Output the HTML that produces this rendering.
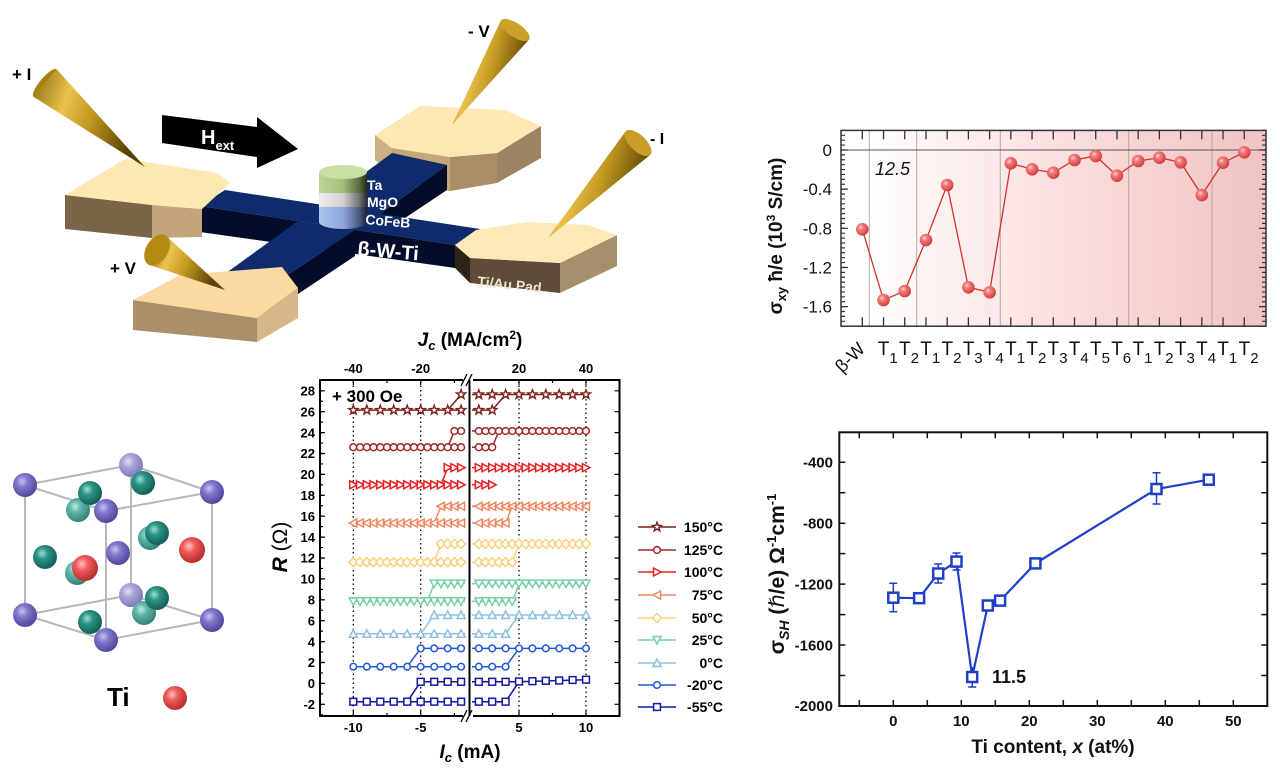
<!DOCTYPE html>
<html><head><meta charset="utf-8">
<style>
html,body{margin:0;padding:0;background:#fff;}
svg{display:block;font-family:"Liberation Sans",Arial,"DejaVu Sans",sans-serif;}
</style></head><body>
<svg width="1280" height="778" viewBox="0 0 1280 778" xmlns="http://www.w3.org/2000/svg">
<defs>
<linearGradient id="pinkbg" x1="841" y1="0" x2="1266" y2="0" gradientUnits="userSpaceOnUse">
<stop offset="0" stop-color="#ffffff"/><stop offset="0.06" stop-color="#ffffff"/><stop offset="0.45" stop-color="#fbe2e2"/><stop offset="1" stop-color="#f2c3c3"/></linearGradient>
<radialGradient id="sph" cx="0.38" cy="0.35" r="0.7">
<stop offset="0" stop-color="#ffd6d6"/><stop offset="0.3" stop-color="#f27c7b"/><stop offset="0.8" stop-color="#dc4c4b"/><stop offset="1" stop-color="#b83232"/></radialGradient>
<radialGradient id="gPur" cx="0.38" cy="0.35" r="0.7"><stop offset="0" stop-color="#c9c4f2"/><stop offset="0.35" stop-color="#7f78cc"/><stop offset="1" stop-color="#4a4396"/></radialGradient>
<radialGradient id="gPurL" cx="0.38" cy="0.35" r="0.7"><stop offset="0" stop-color="#e2e0f6"/><stop offset="0.35" stop-color="#aaa5da"/><stop offset="1" stop-color="#7c77b8"/></radialGradient>
<radialGradient id="gTeal" cx="0.38" cy="0.35" r="0.7"><stop offset="0" stop-color="#9fe0d4"/><stop offset="0.35" stop-color="#2a9484"/><stop offset="1" stop-color="#115a50"/></radialGradient>
<radialGradient id="gTealL" cx="0.38" cy="0.35" r="0.7"><stop offset="0" stop-color="#c2ebe3"/><stop offset="0.35" stop-color="#5fb5a6"/><stop offset="1" stop-color="#2f7d70"/></radialGradient>
<radialGradient id="gRed" cx="0.38" cy="0.35" r="0.7"><stop offset="0" stop-color="#ffc4c4"/><stop offset="0.35" stop-color="#f05a5a"/><stop offset="1" stop-color="#b02a2a"/></radialGradient>
<linearGradient id="gGold" x1="0" y1="0" x2="1" y2="0.3"><stop offset="0" stop-color="#8a6a10"/><stop offset="0.35" stop-color="#e8c24c"/><stop offset="0.6" stop-color="#c49a22"/><stop offset="1" stop-color="#5a4206"/></linearGradient>
<linearGradient id="gGreen" x1="0" y1="0" x2="1" y2="0"><stop offset="0" stop-color="#bcd596"/><stop offset="0.5" stop-color="#a4be7e"/><stop offset="0.85" stop-color="#58683e"/><stop offset="1" stop-color="#262c18"/></linearGradient>
<linearGradient id="gGray" x1="0" y1="0" x2="1" y2="0"><stop offset="0" stop-color="#ececec"/><stop offset="0.5" stop-color="#d2d2d2"/><stop offset="0.85" stop-color="#6e6e6e"/><stop offset="1" stop-color="#2c2c2c"/></linearGradient>
<linearGradient id="gBlue" x1="0" y1="0" x2="1" y2="0"><stop offset="0" stop-color="#abc3ee"/><stop offset="0.5" stop-color="#8fa8dc"/><stop offset="0.85" stop-color="#46567c"/><stop offset="1" stop-color="#182036"/></linearGradient>

<marker id="mk150" markerWidth="12" markerHeight="12" refX="6" refY="6" markerUnits="userSpaceOnUse" overflow="visible"><polygon points="6,1.2 7.18,4.38 10.57,4.52 7.9,6.62 8.82,9.88 6,8 3.18,9.88 4.1,6.62 1.43,4.52 4.82,4.38" fill="#fff" stroke="#7b2020" stroke-width="1.4"/></marker>
<marker id="mk125" markerWidth="12" markerHeight="12" refX="6" refY="6" markerUnits="userSpaceOnUse" overflow="visible"><circle cx="6" cy="6" r="3.4" fill="#fff" stroke="#a02828" stroke-width="1.5"/></marker>
<marker id="mk100" markerWidth="12" markerHeight="12" refX="6" refY="6" markerUnits="userSpaceOnUse" overflow="visible"><polygon points="2.5,2 10,6 2.5,10" fill="#fff" stroke="#e81e1e" stroke-width="1.5"/></marker>
<marker id="mk75" markerWidth="12" markerHeight="12" refX="6" refY="6" markerUnits="userSpaceOnUse" overflow="visible"><polygon points="9.5,2 2,6 9.5,10" fill="#fff" stroke="#f28860" stroke-width="1.5"/></marker>
<marker id="mk50" markerWidth="12" markerHeight="12" refX="6" refY="6" markerUnits="userSpaceOnUse" overflow="visible"><polygon points="6,1.5 10.5,6 6,10.5 1.5,6" fill="#fff" stroke="#fcd07a" stroke-width="1.5"/></marker>
<marker id="mk25" markerWidth="12" markerHeight="12" refX="6" refY="6" markerUnits="userSpaceOnUse" overflow="visible"><polygon points="2,2.5 10,2.5 6,10" fill="#fff" stroke="#78d0a8" stroke-width="1.5"/></marker>
<marker id="mk0" markerWidth="12" markerHeight="12" refX="6" refY="6" markerUnits="userSpaceOnUse" overflow="visible"><polygon points="2,9.5 10,9.5 6,2" fill="#fff" stroke="#8dbfe0" stroke-width="1.5"/></marker>
<marker id="mkm20" markerWidth="12" markerHeight="12" refX="6" refY="6" markerUnits="userSpaceOnUse" overflow="visible"><circle cx="6" cy="6" r="3.3" fill="#fff" stroke="#2255dd" stroke-width="1.5"/></marker>
<marker id="mkm55" markerWidth="12" markerHeight="12" refX="6" refY="6" markerUnits="userSpaceOnUse" overflow="visible"><rect x="2.6" y="2.6" width="6.8" height="6.8" fill="#fff" stroke="#1515a5" stroke-width="1.5"/></marker>
</defs>

<!-- ================= DEVICE SCHEMATIC ================= -->
<polygon points="375,135 392,148 392,172 375,160" fill="#cdb184"/>
<polygon points="392,148 450,157 450,191 392,180" fill="#c3a67a"/>
<polygon points="450,157 497,153 497,183 450,191" fill="#a88d66"/>
<polygon points="497,153 541,126 541,158 497,183" fill="#9c8462"/>
<polygon points="375,135 420,106 505,110 541,126 497,153 450,157 392,148" fill="#fde8b4"/>

<polygon points="200,206 455,245 455,268 200,232" fill="#030c28"/>
<polygon points="265,290 355,230 355,256 265,316" fill="#030c28"/>
<polygon points="380,214 447,165 447,190 405,218" fill="#030c28"/>
<polygon points="225,190 480,229 455,245 200,206" fill="#0f2b6b"/>
<polygon points="215,281 298,221 355,230 265,290" fill="#0f2b6b"/>
<polygon points="321,205 392,153 447,165 380,214" fill="#0f2b6b"/>

<polygon points="65,195 152,205 152,238 65,229" fill="#7a6548"/>
<polygon points="152,205 202,209 202,237 152,238" fill="#c3a57a"/>
<polygon points="65,195 125,159 218,173 230,183 202,209 152,205" fill="#fde8b2"/>

<polygon points="455,245 470,258 470,283 455,268" fill="#2d2518"/>
<polygon points="470,258 560,263 560,293 470,283" fill="#5e4c38"/>
<polygon points="560,263 617,235 617,266 560,293" fill="#a68f6b"/>
<polygon points="455,245 476,230 527,222 588,225 617,235 560,263 470,258" fill="#fde8b8"/>

<polygon points="133,300 257,318 257,342 133,330" fill="#aa9068"/>
<polygon points="257,318 298,288 298,318 257,342" fill="#d6b888"/>
<polygon points="133,300 180,275 282,267 298,288 257,318" fill="#fdd9a2"/>

<rect x="319" y="207" width="48" height="15" fill="url(#gBlue)"/>
<ellipse cx="343" cy="222" rx="24" ry="7" fill="url(#gBlue)"/>
<rect x="319" y="193" width="48" height="14" fill="url(#gGray)"/>
<rect x="319" y="172" width="48" height="21" fill="url(#gGreen)"/>
<ellipse cx="343" cy="172" rx="24" ry="7" fill="#c9e0a2"/>

<polygon points="162,115 257,127 257,117 298,149 257,168 257,157 162,143" fill="#000"/>
<text x="201" y="144" fill="#fff" font-weight="bold" font-size="20">H<tspan font-size="13" dy="6">ext</tspan></text>

<text x="367" y="190" fill="#fff" font-weight="bold" font-size="14">Ta</text>
<text x="367" y="207" fill="#fff" font-weight="bold" font-size="14">MgO</text>
<text transform="translate(365,224) rotate(5)" fill="#fff" font-weight="bold" font-size="14">CoFeB</text>
<text transform="translate(357,255) rotate(5)" fill="#fff" font-weight="bold" font-size="20">β-W-Ti</text>
<text transform="translate(477,286) rotate(6)" fill="#efe4cc" font-weight="bold" font-size="14">Ti/Au Pad</text>

<ellipse cx="45" cy="83" rx="18" ry="5" transform="rotate(-50 45 83)" fill="#a8820e"/>
<polygon points="33.4,96.8 56.6,69.2 145,167" fill="url(#gGold)"/>
<polygon points="529.2,39.4 500.8,20.6 452,125" fill="url(#gGold)"/>
<ellipse cx="515" cy="30" rx="17" ry="7" transform="rotate(33.6 515 30)" fill="#caa22a"/>
<polygon points="650.3,154.7 625.7,131.3 548,238" fill="url(#gGold)"/>
<ellipse cx="638" cy="143" rx="17" ry="8" transform="rotate(43.5 638 143)" fill="#c99e26"/>
<polygon points="148.4,264.6 165.6,235.4 225,290" fill="url(#gGold)"/>
<ellipse cx="157" cy="250" rx="17" ry="11" transform="rotate(-59.6 157 250)" fill="#b48a14"/>

<text x="12" y="80" font-weight="bold" font-size="17" fill="#000">+ I</text>
<text x="468" y="37" font-weight="bold" font-size="17" fill="#000">- V</text>
<text x="650" y="144" font-weight="bold" font-size="16" fill="#000">- I</text>
<text x="110" y="274" font-weight="bold" font-size="17" fill="#000">+ V</text>

<!-- ================= CRYSTAL ================= -->
<g stroke="#b8b8b8" stroke-width="2" fill="none">
<polygon points="25,485 131,465 212,492 106,511"/>
<polygon points="25,615 131,595 212,620 106,640"/>
<path d="M25,485V615 M131,465V595 M212,492V620 M106,511V640"/>
</g>
<circle cx="131" cy="465" r="12" fill="url(#gPurL)"/>
<circle cx="131" cy="595" r="12" fill="url(#gPurL)"/>
<circle cx="143" cy="483" r="12" fill="url(#gTeal)"/>
<circle cx="78" cy="510" r="12" fill="url(#gTealL)"/>
<circle cx="90" cy="493" r="12" fill="url(#gTeal)"/>
<circle cx="77" cy="573" r="12" fill="url(#gTealL)"/>
<circle cx="150" cy="538" r="12" fill="url(#gTealL)"/>
<circle cx="157" cy="533" r="12" fill="url(#gTeal)"/>
<circle cx="144" cy="613" r="12" fill="url(#gTealL)"/>
<circle cx="157" cy="598" r="12" fill="url(#gTeal)"/>
<circle cx="90" cy="622" r="12" fill="url(#gTeal)"/>
<circle cx="45" cy="557" r="12" fill="url(#gTeal)"/>
<circle cx="118" cy="553" r="12" fill="url(#gPur)"/>
<circle cx="85" cy="568" r="13" fill="url(#gRed)"/>
<circle cx="192" cy="550" r="13" fill="url(#gRed)"/>
<circle cx="25" cy="485" r="12" fill="url(#gPur)"/>
<circle cx="212" cy="492" r="12" fill="url(#gPur)"/>
<circle cx="106" cy="511" r="12" fill="url(#gPur)"/>
<circle cx="25" cy="615" r="12" fill="url(#gPur)"/>
<circle cx="212" cy="620" r="12" fill="url(#gPur)"/>
<circle cx="106" cy="640" r="12" fill="url(#gPur)"/>
<text x="107" y="706" font-weight="bold" font-size="26" fill="#000">Ti</text>
<circle cx="175" cy="698" r="12" fill="url(#gRed)"/>

<!-- ================= MIDDLE CHART ================= -->
<g stroke="#000" stroke-width="1.3" stroke-dasharray="1.5 3">
<path d="M353.3,381V715 M420.7,381V715 M519,381V715 M586,381V715"/>
</g>
<rect x="320" y="380" width="299.5" height="336" fill="none" stroke="#000" stroke-width="2"/>
<rect x="463" y="376" width="10" height="8" fill="#fff"/>
<rect x="463" y="712" width="10" height="8" fill="#fff"/>
<path d="M461,386 L467,374 M466,386 L472,374 M461,722 L467,710 M466,722 L472,710" stroke="#000" stroke-width="1.3"/>
<line x1="469.5" y1="380" x2="469.5" y2="716" stroke="#000" stroke-width="2"/>
<line x1="321.5" y1="390.2" x2="321.5" y2="716" stroke="#000" stroke-width="3" stroke-dasharray="1.2 9.25"/>
<line x1="322.5" y1="390.2" x2="322.5" y2="716" stroke="#000" stroke-width="5" stroke-dasharray="1.2 19.7"/>
<line x1="617" y1="390.2" x2="617" y2="716" stroke="#000" stroke-width="5" stroke-dasharray="1.2 19.7"/>
<path d="M353.3,380v5 M420.7,380v5 M519,380v5 M586,380v5 M387,380v3 M454.4,380v3 M552.5,380v3 M353.3,716v-5 M420.7,716v-5 M519,716v-5 M586,716v-5 M387,716v-3 M454.4,716v-3 M552.5,716v-3" stroke="#000" stroke-width="1.2"/>
<g font-weight="bold" font-size="13" fill="#000" text-anchor="end">
<text x="315" y="395.5">28</text><text x="315" y="416.4">26</text><text x="315" y="437.3">24</text><text x="315" y="458.2">22</text>
<text x="315" y="479.1">20</text><text x="315" y="500">18</text><text x="315" y="520.9">16</text><text x="315" y="541.8">14</text>
<text x="315" y="562.7">12</text><text x="315" y="583.6">10</text><text x="315" y="604.5">8</text><text x="315" y="625.4">6</text>
<text x="315" y="646.3">4</text><text x="315" y="667.2">2</text><text x="315" y="688.1">0</text><text x="315" y="709">-2</text>
</g>
<g font-weight="bold" font-size="13" fill="#000" text-anchor="middle">
<text x="353.3" y="373">-40</text><text x="420.7" y="373">-20</text><text x="519" y="373">20</text><text x="586" y="373">40</text>
<text x="353.3" y="732">-10</text><text x="420.7" y="732">-5</text><text x="519" y="732">5</text><text x="586" y="732">10</text>
</g>
<text x="470" y="346" text-anchor="middle" font-weight="bold" font-size="19"><tspan font-style="italic">J</tspan><tspan font-style="italic" font-size="13" dy="4">c</tspan><tspan dy="-4"> (MA/cm</tspan><tspan font-size="12" dy="-7">2</tspan><tspan dy="7">)</tspan></text>
<text x="470" y="758" text-anchor="middle" font-weight="bold" font-size="19"><tspan font-style="italic">I</tspan><tspan font-style="italic" font-size="13" dy="4">c</tspan><tspan dy="-4"> (mA)</tspan></text>
<text transform="translate(287,547) rotate(-90)" text-anchor="middle" font-size="21" font-weight="bold"><tspan font-style="italic">R</tspan> <tspan font-weight="normal">(Ω)</tspan></text>
<text x="332" y="402" font-weight="bold" font-size="17">+ 300 Oe</text>

<g fill="none" stroke-width="1.5">
<path stroke="#7b2020" d="M353.3,410.1H465 M447.7,410.1L461.1,394.5H465 M472,394.5H586 M472,410.1H492.2L505.6,394.5"/>
<path stroke="#a02828" d="M353.3,447.2H465 M447.7,447.2L454.4,431H465 M472,431H586 M472,447.2H492.2L498.9,431"/>
<path stroke="#e81e1e" d="M353.3,484.8H465 M440.9,484.8L447.7,467.6H465 M472,467.6H586 M472,484.8H492.2"/>
<path stroke="#f28860" d="M353.3,523H465 M434.2,523L440.9,506.3H465 M472,506.3H586 M472,523H505.6L512.3,506.3"/>
<path stroke="#fcd07a" d="M353.3,562.2H465 M434.2,562.2L440.9,543.9H465 M472,543.9H586 M472,562.2H512.3L519,543.9"/>
<path stroke="#78d0a8" d="M353.3,601.4H465 M427.4,601.4L434.2,583.6H465 M472,583.6H586 M472,601.4H512.3L519,583.6"/>
<path stroke="#8dbfe0" d="M353.3,633.8H465 M420.7,633.8L434.2,615H465 M472,615H586 M472,633.8H505.6L519,615"/>
<path stroke="#2255dd" d="M353.3,666.7H465 M407.2,666.7L420.7,648.4H465 M472,648.4H586 M472,666.7H505.6L519,648.4"/>
<path stroke="#1515a5" d="M353.3,701.7H465 M407.2,701.7L420.7,681.8H465 M472,681.8H519L586,679.7 M472,701.7H505.6L519,681.8"/>
</g>
<g fill="none" stroke="none">
<polyline marker-start="url(#mk150)" marker-mid="url(#mk150)" marker-end="url(#mk150)" points="353.3,410.1 366.8,410.1 380.3,410.1 393.7,410.1 407.2,410.1 420.7,410.1 434.2,410.1 447.7,410.1 461.1,410.1 461.1,394.5 478.8,394.5 492.2,394.5 505.6,394.5 519,394.5 532.4,394.5 545.8,394.5 559.2,394.5 572.6,394.5 586,394.5 492.2,410.1 478.8,410.1"/>
<polyline marker-start="url(#mk125)" marker-mid="url(#mk125)" marker-end="url(#mk125)" points="353.3,447.2 360,447.2 366.8,447.2 373.5,447.2 380.3,447.2 387,447.2 393.7,447.2 400.5,447.2 407.2,447.2 414,447.2 420.7,447.2 427.4,447.2 434.2,447.2 440.9,447.2 447.7,447.2 454.4,447.2 461.1,447.2 454.4,431 461.1,431 478.8,431 485.5,431 492.2,431 498.9,431 505.6,431 512.3,431 519,431 525.7,431 532.4,431 539.1,431 545.8,431 552.5,431 559.2,431 565.9,431 572.6,431 579.3,431 586,431 478.8,447.2 485.5,447.2 492.2,447.2"/>
<polyline marker-start="url(#mk100)" marker-mid="url(#mk100)" marker-end="url(#mk100)" points="353.3,484.8 360,484.8 366.8,484.8 373.5,484.8 380.3,484.8 387,484.8 393.7,484.8 400.5,484.8 407.2,484.8 414,484.8 420.7,484.8 427.4,484.8 434.2,484.8 440.9,484.8 447.7,484.8 454.4,484.8 461.1,484.8 447.7,467.6 454.4,467.6 461.1,467.6 478.8,467.6 485.5,467.6 492.2,467.6 498.9,467.6 505.6,467.6 512.3,467.6 519,467.6 525.7,467.6 532.4,467.6 539.1,467.6 545.8,467.6 552.5,467.6 559.2,467.6 565.9,467.6 572.6,467.6 579.3,467.6 586,467.6 478.8,484.8 485.5,484.8 492.2,484.8"/>
<polyline marker-start="url(#mk75)" marker-mid="url(#mk75)" marker-end="url(#mk75)" points="353.3,523 360,523 366.8,523 373.5,523 380.3,523 387,523 393.7,523 400.5,523 407.2,523 414,523 420.7,523 427.4,523 434.2,523 440.9,523 447.7,523 454.4,523 461.1,523 440.9,506.3 447.7,506.3 454.4,506.3 461.1,506.3 478.8,506.3 485.5,506.3 492.2,506.3 498.9,506.3 505.6,506.3 512.3,506.3 519,506.3 525.7,506.3 532.4,506.3 539.1,506.3 545.8,506.3 552.5,506.3 559.2,506.3 565.9,506.3 572.6,506.3 579.3,506.3 586,506.3 478.8,523 485.5,523 492.2,523 498.9,523 505.6,523"/>
<polyline marker-start="url(#mk50)" marker-mid="url(#mk50)" marker-end="url(#mk50)" points="353.3,562.2 360,562.2 366.8,562.2 373.5,562.2 380.3,562.2 387,562.2 393.7,562.2 400.5,562.2 407.2,562.2 414,562.2 420.7,562.2 427.4,562.2 434.2,562.2 440.9,562.2 447.7,562.2 454.4,562.2 461.1,562.2 440.9,543.9 447.7,543.9 454.4,543.9 461.1,543.9 478.8,543.9 485.5,543.9 492.2,543.9 498.9,543.9 505.6,543.9 512.3,543.9 519,543.9 525.7,543.9 532.4,543.9 539.1,543.9 545.8,543.9 552.5,543.9 559.2,543.9 565.9,543.9 572.6,543.9 579.3,543.9 586,543.9 478.8,562.2 485.5,562.2 492.2,562.2 498.9,562.2 505.6,562.2 512.3,562.2"/>
<polyline marker-start="url(#mk25)" marker-mid="url(#mk25)" marker-end="url(#mk25)" points="353.3,601.4 360,601.4 366.8,601.4 373.5,601.4 380.3,601.4 387,601.4 393.7,601.4 400.5,601.4 407.2,601.4 414,601.4 420.7,601.4 427.4,601.4 434.2,601.4 440.9,601.4 447.7,601.4 454.4,601.4 461.1,601.4 434.2,583.6 440.9,583.6 447.7,583.6 454.4,583.6 461.1,583.6 478.8,583.6 485.5,583.6 492.2,583.6 498.9,583.6 505.6,583.6 512.3,583.6 519,583.6 525.7,583.6 532.4,583.6 539.1,583.6 545.8,583.6 552.5,583.6 559.2,583.6 565.9,583.6 572.6,583.6 579.3,583.6 586,583.6 478.8,601.4 485.5,601.4 492.2,601.4 498.9,601.4 505.6,601.4 512.3,601.4"/>
<polyline marker-start="url(#mk0)" marker-mid="url(#mk0)" marker-end="url(#mk0)" points="353.3,633.8 366.8,633.8 380.3,633.8 393.7,633.8 407.2,633.8 420.7,633.8 434.2,633.8 447.7,633.8 461.1,633.8 434.2,615 447.7,615 461.1,615 478.8,615 492.2,615 505.6,615 519,615 532.4,615 545.8,615 559.2,615 572.6,615 586,615 478.8,633.8 492.2,633.8 505.6,633.8"/>
<polyline marker-start="url(#mkm20)" marker-mid="url(#mkm20)" marker-end="url(#mkm20)" points="353.3,666.7 366.8,666.7 380.3,666.7 393.7,666.7 407.2,666.7 420.7,666.7 434.2,666.7 447.7,666.7 461.1,666.7 420.7,648.4 434.2,648.4 447.7,648.4 461.1,648.4 478.8,648.4 492.2,648.4 505.6,648.4 519,648.4 532.4,648.4 545.8,648.4 559.2,648.4 572.6,648.4 586,648.4 478.8,666.7 492.2,666.7 505.6,666.7"/>
<polyline marker-start="url(#mkm55)" marker-mid="url(#mkm55)" marker-end="url(#mkm55)" points="353.3,701.7 366.8,701.7 380.3,701.7 393.7,701.7 407.2,701.7 420.7,701.7 434.2,701.7 447.7,701.7 461.1,701.7 420.7,681.8 434.2,681.8 447.7,681.8 461.1,681.8 478.8,681.8 492.2,681.8 505.6,681.8 519,681.5 532.4,681.2 545.8,680.8 559.2,680.5 572.6,680 586,679.7 478.8,701.7 492.2,701.7 505.6,701.7"/>
</g>

<g fill="none" stroke-width="1.6">
<polyline stroke="#7b2020" points="638,527 657,527 676,527" marker-mid="url(#mk150)"/>
<polyline stroke="#a02828" points="638,550 657,550 676,550" marker-mid="url(#mk125)"/>
<polyline stroke="#e81e1e" points="638,572 657,572 676,572" marker-mid="url(#mk100)"/>
<polyline stroke="#f28860" points="638,595 657,595 676,595" marker-mid="url(#mk75)"/>
<polyline stroke="#fcd07a" points="638,618 657,618 676,618" marker-mid="url(#mk50)"/>
<polyline stroke="#78d0a8" points="638,640 657,640 676,640" marker-mid="url(#mk25)"/>
<polyline stroke="#8dbfe0" points="638,663 657,663 676,663" marker-mid="url(#mk0)"/>
<polyline stroke="#2255dd" points="638,685 657,685 676,685" marker-mid="url(#mkm20)"/>
<polyline stroke="#1515a5" points="638,707 657,707 676,707" marker-mid="url(#mkm55)"/>
</g>
<g font-weight="bold" font-size="14" fill="#000" text-anchor="end">
<text x="723" y="532">150°C</text><text x="723" y="555">125°C</text><text x="723" y="577">100°C</text>
<text x="723" y="600">75°C</text><text x="723" y="623">50°C</text><text x="723" y="645">25°C</text>
<text x="723" y="668">0°C</text><text x="723" y="690">-20°C</text><text x="723" y="712">-55°C</text>
</g>

<!-- ================= TOP RIGHT CHART ================= -->
<rect x="841" y="130.4" width="425" height="195.8" fill="url(#pinkbg)"/>
<path d="M869.3,130.4V326.2 M916.7,130.4V326.2 M1000.3,130.4V326.2 M1128.7,130.4V326.2 M1212,130.4V326.2" stroke="#b3a8a8" stroke-width="1"/>
<line x1="841" y1="150" x2="1266" y2="150" stroke="#555" stroke-width="1"/>
<line x1="843" y1="129.8" x2="843" y2="326.2" stroke="#333" stroke-width="4" stroke-dasharray="1.2 3.695"/>
<line x1="844.5" y1="149.4" x2="844.5" y2="326.2" stroke="#333" stroke-width="7" stroke-dasharray="1.2 37.96"/>
<line x1="1264" y1="129.8" x2="1264" y2="326.2" stroke="#333" stroke-width="4" stroke-dasharray="1.2 3.695"/>
<line x1="1262.5" y1="149.4" x2="1262.5" y2="326.2" stroke="#333" stroke-width="7" stroke-dasharray="1.2 37.96"/>
<line x1="861.65" y1="134.9" x2="1250" y2="134.9" stroke="#333" stroke-width="9" stroke-dasharray="1.3 19.92"/>
<line x1="861.65" y1="321.7" x2="1250" y2="321.7" stroke="#333" stroke-width="9" stroke-dasharray="1.3 19.92"/>
<rect x="841" y="130.4" width="425" height="195.8" fill="none" stroke="#333" stroke-width="1.5"/>
<polyline fill="none" stroke="#d8302c" stroke-width="1.3" points="862.3,229.3 883.5,300 904.7,291 926,240 947.2,185 968.4,287.3 989.6,292.3 1010.8,163.3 1032.1,169.3 1053.3,172.7 1074.5,160 1095.7,156 1116.9,175.7 1138.2,161 1159.4,157.7 1180.6,162.3 1201.8,195 1223,162.7 1244.3,152.3"/>
<g fill="url(#sph)">
<circle cx="862.3" cy="229.3" r="6.3"/><circle cx="883.5" cy="300" r="6.3"/><circle cx="904.7" cy="291" r="6.3"/>
<circle cx="926" cy="240" r="6.3"/><circle cx="947.2" cy="185" r="6.3"/><circle cx="968.4" cy="287.3" r="6.3"/>
<circle cx="989.6" cy="292.3" r="6.3"/><circle cx="1010.8" cy="163.3" r="6.3"/><circle cx="1032.1" cy="169.3" r="6.3"/>
<circle cx="1053.3" cy="172.7" r="6.3"/><circle cx="1074.5" cy="160" r="6.3"/><circle cx="1095.7" cy="156" r="6.3"/>
<circle cx="1116.9" cy="175.7" r="6.3"/><circle cx="1138.2" cy="161" r="6.3"/><circle cx="1159.4" cy="157.7" r="6.3"/>
<circle cx="1180.6" cy="162.3" r="6.3"/><circle cx="1201.8" cy="195" r="6.3"/><circle cx="1223" cy="162.7" r="6.3"/>
<circle cx="1244.3" cy="152.3" r="6.3"/>
</g>
<g font-size="17" fill="#111" text-anchor="end">
<text x="832" y="156">0</text><text x="832" y="195.2">-0.4</text><text x="832" y="234.3">-0.8</text><text x="832" y="273.5">-1.2</text><text x="832" y="312.6">-1.6</text>
</g>
<text x="875" y="175" font-style="italic" font-size="18" fill="#111">12.5</text>
<text transform="translate(782,236) rotate(-90)" text-anchor="middle" font-weight="bold" font-size="19" fill="#111">σ<tspan font-size="13" dy="4">xy</tspan><tspan dy="-4"> ħ/e (10</tspan><tspan font-size="12" dy="-7">3</tspan><tspan dy="7"> S/cm)</tspan></text>
<text transform="translate(866,350) rotate(-45)" text-anchor="end" font-size="18" fill="#111">β-W</text>
<g font-size="19" fill="#111">
<text x="877.8" y="355">T<tspan font-size="15" dy="8">1</tspan></text>
<text x="899" y="355">T<tspan font-size="15" dy="8">2</tspan></text>
<text x="920.3" y="355">T<tspan font-size="15" dy="8">1</tspan></text>
<text x="941.5" y="355">T<tspan font-size="15" dy="8">2</tspan></text>
<text x="962.7" y="355">T<tspan font-size="15" dy="8">3</tspan></text>
<text x="983.9" y="355">T<tspan font-size="15" dy="8">4</tspan></text>
<text x="1005.1" y="355">T<tspan font-size="15" dy="8">1</tspan></text>
<text x="1026.4" y="355">T<tspan font-size="15" dy="8">2</tspan></text>
<text x="1047.6" y="355">T<tspan font-size="15" dy="8">3</tspan></text>
<text x="1068.8" y="355">T<tspan font-size="15" dy="8">4</tspan></text>
<text x="1090" y="355">T<tspan font-size="15" dy="8">5</tspan></text>
<text x="1111.2" y="355">T<tspan font-size="15" dy="8">6</tspan></text>
<text x="1132.5" y="355">T<tspan font-size="15" dy="8">1</tspan></text>
<text x="1153.7" y="355">T<tspan font-size="15" dy="8">2</tspan></text>
<text x="1174.9" y="355">T<tspan font-size="15" dy="8">3</tspan></text>
<text x="1196.1" y="355">T<tspan font-size="15" dy="8">4</tspan></text>
<text x="1217.3" y="355">T<tspan font-size="15" dy="8">1</tspan></text>
<text x="1238.6" y="355">T<tspan font-size="15" dy="8">2</tspan></text>
</g>

<!-- ================= BOTTOM RIGHT CHART ================= -->
<line x1="842.3" y1="461.55" x2="842.3" y2="706" stroke="#111" stroke-width="6" stroke-dasharray="1.5 28.96"/>
<line x1="1264.3" y1="461.55" x2="1264.3" y2="706" stroke="#111" stroke-width="6" stroke-dasharray="1.5 28.96"/>
<line x1="858.55" y1="703" x2="1266" y2="703" stroke="#111" stroke-width="6" stroke-dasharray="1.5 32.5"/>
<line x1="858.55" y1="435.3" x2="1266" y2="435.3" stroke="#111" stroke-width="6" stroke-dasharray="1.5 32.5"/>
<rect x="839.3" y="432.3" width="428" height="273.7" fill="none" stroke="#111" stroke-width="2"/>
<g font-weight="bold" font-size="15" fill="#111" text-anchor="end">
<text x="833" y="467.5">-400</text><text x="833" y="528.4">-800</text><text x="833" y="589.4">-1200</text><text x="833" y="650.3">-1600</text><text x="833" y="711">-2000</text>
</g>
<g font-weight="bold" font-size="15" fill="#111" text-anchor="middle">
<text x="893.3" y="726">0</text><text x="961.3" y="726">10</text><text x="1029.3" y="726">20</text><text x="1097.3" y="726">30</text><text x="1165.3" y="726">40</text><text x="1233.3" y="726">50</text>
</g>
<text x="1053" y="753" text-anchor="middle" font-weight="bold" font-size="19" fill="#111">Ti content, <tspan font-style="italic">x</tspan> (at%)</text>
<text transform="translate(784,574) rotate(-90)" text-anchor="middle" font-weight="bold" font-size="21" fill="#111">σ<tspan font-size="14" font-style="italic" dy="5">SH</tspan><tspan dy="-5"> (</tspan><tspan font-style="italic" font-weight="normal">ℏ</tspan>/e) Ω<tspan font-size="13" dy="-8">-1</tspan><tspan dy="8">cm</tspan><tspan font-size="13" dy="-8">-1</tspan></text>
<path d="M893.3,583.3V611.7 M889.3,583.3h8 M889.3,611.7h8 M938.2,564V583 M934.2,564h8 M934.2,583h8 M956.5,553V570 M952.5,553h8 M952.5,570h8 M972.2,667V687 M968.2,687h8 M1156.5,472.7V504 M1152.5,472.7h8 M1152.5,504h8" stroke="#1f3fc6" stroke-width="1.5" fill="none"/>
<polyline fill="none" stroke="#1f3fc6" stroke-width="2.2" points="893.3,597.7 919.1,598.2 938.2,573.5 956.5,561.6 972.2,677 987.8,605.5 1000.1,600.6 1035.4,563.4 1156.5,489 1208.8,479.7"/>
<g fill="#fff" stroke="#1f3fc6" stroke-width="2.5">
<rect x="888.3" y="592.7" width="10" height="10"/><rect x="914.1" y="593.2" width="10" height="10"/>
<rect x="933.2" y="568.5" width="10" height="10"/><rect x="951.5" y="556.6" width="10" height="10"/>
<rect x="967.2" y="672" width="10" height="10"/><rect x="982.8" y="600.5" width="10" height="10"/>
<rect x="995.1" y="595.6" width="10" height="10"/><rect x="1030.4" y="558.4" width="10" height="10"/>
<rect x="1151.5" y="484" width="10" height="10"/><rect x="1203.8" y="474.7" width="10" height="10"/>
</g>
<text x="992" y="683" font-weight="bold" font-size="18" fill="#111">11.5</text>
</svg>
</body></html>
